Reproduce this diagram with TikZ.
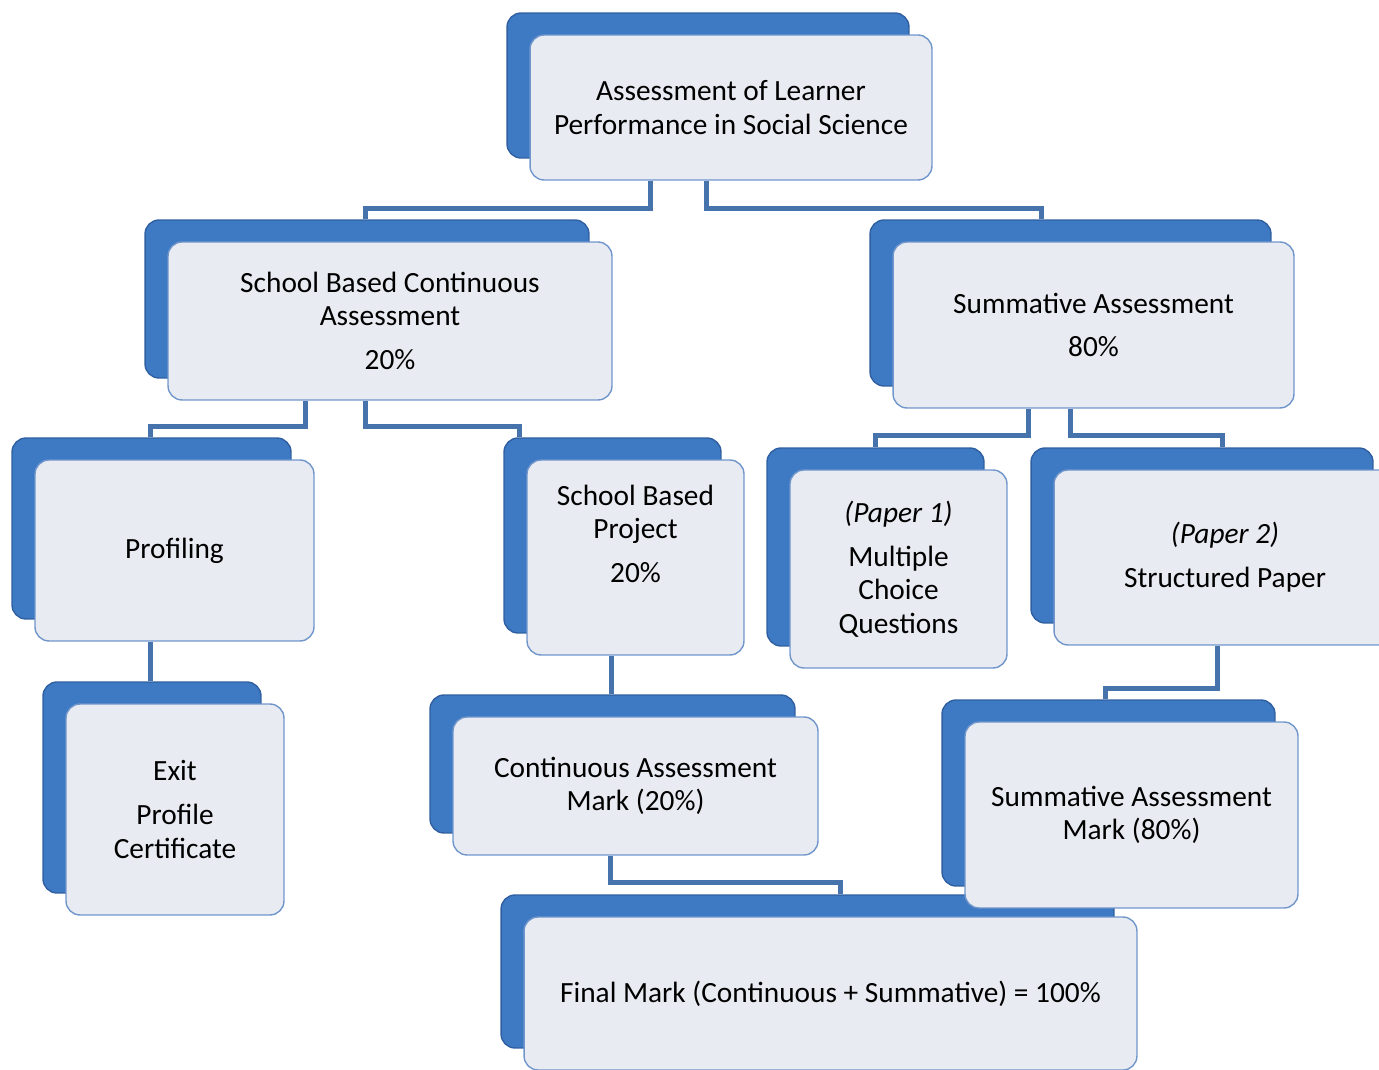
\documentclass[tikz,border=0pt]{standalone}
\usepackage{fontspec}
\setmainfont{Carlito}
\usetikzlibrary{shadows,calc}
\definecolor{tabblue}{RGB}{62,122,196}
\definecolor{tabedge}{RGB}{47,95,160}
\definecolor{cardfill}{RGB}{232,235,241}
\definecolor{cardedge}{RGB}{112,150,204}
\definecolor{linkblue}{RGB}{70,115,172}

\begin{document}
\begin{tikzpicture}[
            x=0.02cm, y=-0.02cm,% one unit = one pixel of the layout
                C/.style = {rectangle, rounded corners=0.28cm,% front card of a box
                            draw=cardedge, line width=0.8pt, fill=cardfill,
                            align=center, inner sep=2pt,
                            font=\fontsize{16.7}{19}\selectfont,
                            copy shadow={shadow xshift=-0.46cm, shadow yshift=0.44cm,
                                         fill=tabblue, draw=tabedge}}, % blue tab behind
                L/.style = {draw=linkblue, line width=0.1cm},% connectors
                ]
            \useasboundingbox (0,0) rectangle (1379,1070);
            \node[C, minimum width=8.04cm, minimum height=2.9cm] (top) at (731,107.5)
                {Assessment of Learner\\Performance in Social Science};
            \node[C, minimum width=8.88cm, minimum height=3.16cm] (sbca) at (390,321)
                {School Based Continuous\\Assessment\\[0.21cm]20\%};
            \node[C, minimum width=8.02cm, minimum height=3.32cm] (summ) at (1093.5,325)
                {Summative Assessment\\[0.21cm]80\%};
            \node[C, minimum width=5.58cm, minimum height=3.62cm] (prof) at (174.5,550.5)
                {Profiling};
            \node[C, minimum width=4.36cm, minimum height=4.22cm] (exit) at (175,809.5)
                {Exit\\[0.21cm]Profile\\Certificate};
            \node[C, minimum width=4.34cm, minimum height=3.9cm,
                  text depth=0.95cm] (sbp) at (635.5,557.5)
                {School Based\\Project\\[0.21cm]20\%};
            \node[C, minimum width=4.34cm, minimum height=3.96cm] (pap1) at (898.5,569)
                {\textit{(Paper 1)}\\[0.21cm]Multiple\\Choice\\Questions};
            \node[C, minimum width=6.84cm, minimum height=3.5cm] (pap2) at (1225,557.5)
                {\textit{(Paper 2)}\\[0.21cm]Structured Paper};
            \node[C, minimum width=7.3cm, minimum height=2.76cm] (cam) at (635.5,786)
                {Continuous Assessment\\Mark (20\%)};
            \node[C, minimum width=12.26cm, minimum height=3.06cm] (fin) at (830.5,993.5)
                {Final Mark (Continuous + Summative) = 100\%};
            \node[C, minimum width=6.66cm, minimum height=3.72cm] (sam) at (1131.5,815)
                {Summative Assessment\\Mark (80\%)};
            % connectors
            \draw[L] ($(top.south)+(-81,0)$) -- ++(0,28) -| ($(sbca.north)+(-25,-22)$);
            \draw[L] ($(top.south)+(-25,0)$) -- ++(0,28) -| ($(summ.north)+(-52.5,-22)$);
            \draw[L] ($(sbca.south)+(-85,0)$) -- ++(0,26) -| ($(prof.north)+(-24.5,-22)$);
            \draw[L] ($(sbca.south)+(-25,0)$) -- ++(0,26) -| ($(sbp.north)+(-116.5,-22)$);
            \draw[L] ($(summ.south)+(-65.5,0)$) -- ++(0,27) -| ($(pap1.north)+(-23.5,-22)$);
            \draw[L] ($(summ.south)+(-23.5,0)$) -- ++(0,27) -| ($(pap2.north)+(-3,-22)$);
            \draw[L] ($(prof.south)+(-24.5,0)$) -- ($(exit.north)+(-25,-22)$);
            \draw[L] ($(sbp.south)+(-24.5,0)$) -- ($(cam.north)+(-24.5,-22)$);
            \draw[L] ($(pap2.south)+(-8,0)$) -- ++(0,43) -| ($(sam.north)+(-26.5,-22)$);
            \draw[L] ($(cam.south)+(-25.5,0)$) -- ++(0,27) -| ($(fin.north)+(9.5,-22)$);
        \end{tikzpicture}
\end{document}
